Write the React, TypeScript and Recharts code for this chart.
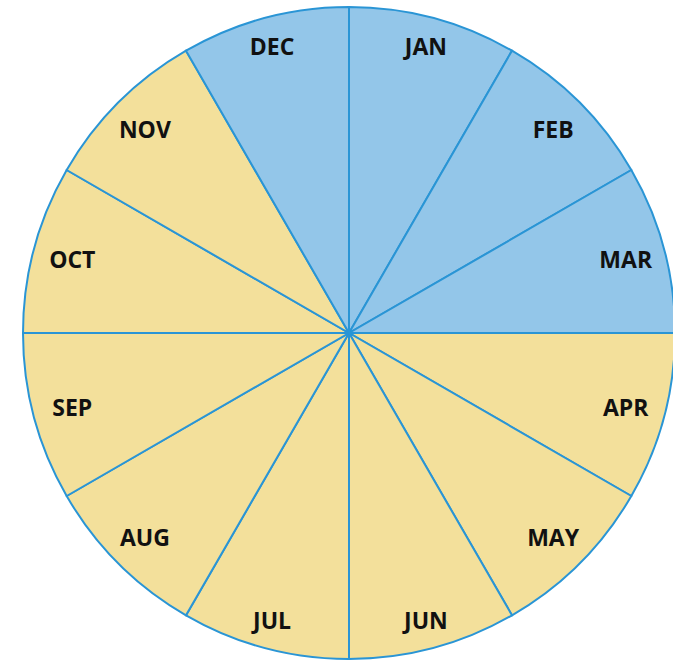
import { PieChart, Pie, Cell } from "recharts";

const months = ["JAN", "FEB", "MAR", "APR", "MAY", "JUN", "JUL", "AUG", "SEP", "OCT", "NOV", "DEC"];
const shares = [1, 1, 1, 1, 1, 1, 1, 1, 1, 1, 1, 1];
const winterMonths = ["DEC", "JAN", "FEB", "MAR"];

const BLUE = "#93c6e9";
const SAND = "#f3e09b";
const EDGE = "#2a95d5";

const data = months.map((m, i) => ({ name: m, value: shares[i] }));

const RAD = Math.PI / 180;

// inside-end placement: the label box's outer corner sits just inside the rim
// eslint-disable-next-line @typescript-eslint/no-explicit-any
function MonthLabel({ cx, cy, midAngle, name }: any) {
  const c = Math.cos(-midAngle * RAD);
  const s = Math.sin(-midAngle * RAD);
  const hw = String(name).length * 8;
  const hh = 9;
  const r = 312 - (hw * Math.abs(c) + hh * Math.abs(s));
  return (
    <text
      x={cx + r * c}
      y={cy + r * s}
      textAnchor="middle"
      dominantBaseline="central"
      style={{ fontFamily: "'Open Sans', sans-serif", fontWeight: 700, fontSize: 23, fill: "#111" }}
    >
      {name}
    </text>
  );
}

export default function App() {
  return (
    <div style={{ position: "fixed", left: 0, top: 0, width: 673, height: 660, overflow: "hidden", background: "#fff" }}>
      <PieChart width={673} height={660} margin={{ top: 0, right: 0, bottom: 0, left: 0 }}>
        <Pie
          data={data}
          dataKey="value"
          nameKey="name"
          cx={349}
          cy={333}
          outerRadius={326}
          startAngle={90}
          endAngle={-270}
          stroke={EDGE}
          strokeWidth={2}
          label={<MonthLabel />}
          labelLine={false}
          isAnimationActive={false}
        >
          {data.map((d) => (
            <Cell key={d.name} fill={winterMonths.includes(d.name) ? BLUE : SAND} stroke={EDGE} strokeWidth={2} />
          ))}
        </Pie>
      </PieChart>
    </div>
  );
}
